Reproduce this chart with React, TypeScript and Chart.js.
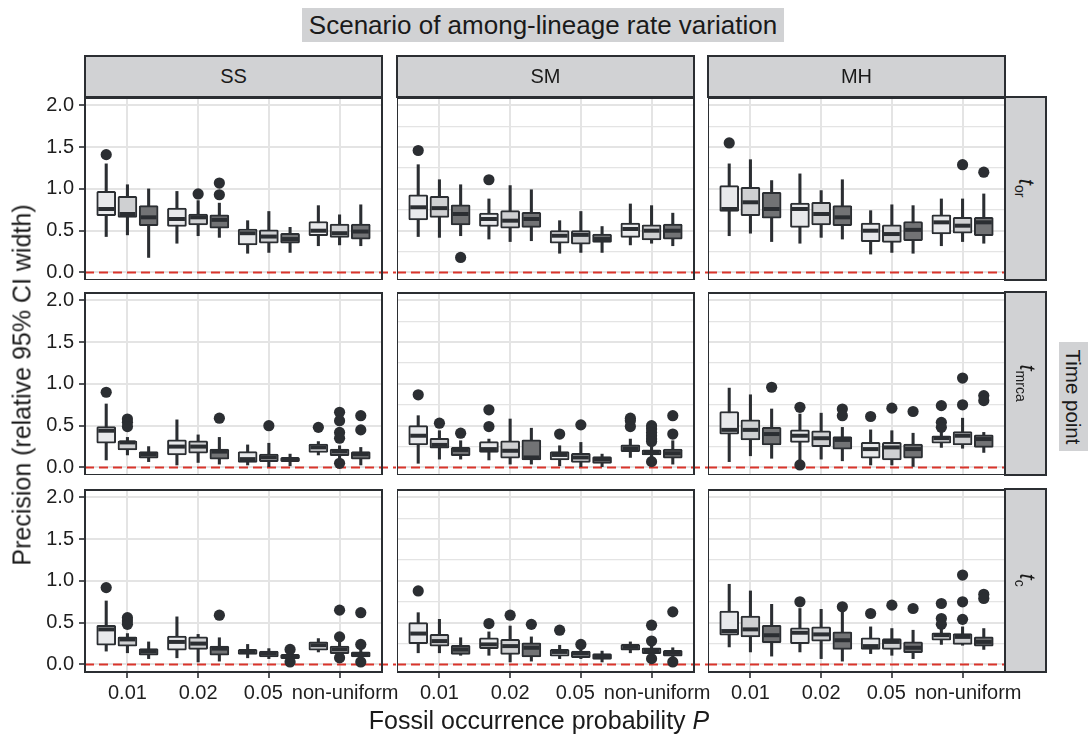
import React, { useEffect, useRef } from "react";
import { Chart, registerables } from "chart.js";
Chart.register(...registerables);

const FONT = '"Liberation Sans", Arial, Helvetica, sans-serif';
const DARK = "#2b2e32";
const FILLS = ["#e8e9eb", "#cfd0d2", "#727375"];
const GRID = "#e4e4e4";
const RED = "#d9342b";
const STRIP = "#d1d2d4";

const categories = ["0.01", "0.02", "0.05", "non-uniform"];
// label spacing as rendered in the original figure (labels nudged apart)
const categoryLabelText = ["0.01", "0.02", "0.05  ", "  non-uniform"];
const scenarios = ["SS", "SM", "MH"];
const timePoints = ["or", "mrca", "c"];
const yTickValues = [0, 0.25, 0.5, 0.75, 1, 1.25, 1.5, 1.75, 2];

// box stats per group (light, mid, dark), per category: [lowWhisker, q1, median, q3, highWhisker]
const ssOr = [
  [[0.43, 0.68, 0.76, 0.97, 1.3], [0.35, 0.55, 0.64, 0.77, 0.97], [0.23, 0.33, 0.47, 0.52, 0.62], [0.32, 0.44, 0.5, 0.61, 0.8]],
  [[0.45, 0.66, 0.7, 0.91, 1.05], [0.44, 0.57, 0.66, 0.7, 0.86], [0.24, 0.35, 0.43, 0.51, 0.73], [0.33, 0.42, 0.47, 0.58, 0.69]],
  [[0.18, 0.56, 0.66, 0.8, 1.0], [0.42, 0.53, 0.63, 0.69, 0.83], [0.24, 0.35, 0.4, 0.47, 0.54], [0.32, 0.4, 0.49, 0.58, 0.81]],
];
const ssOrOut = [[[1.41], [], [], []], [[], [0.94], [], []], [[], [0.93, 1.07], [], []]];

const smOr = [
  [[0.43, 0.63, 0.78, 0.93, 1.29], [0.4, 0.55, 0.64, 0.71, 0.88], [0.23, 0.35, 0.44, 0.5, 0.62], [0.33, 0.42, 0.52, 0.59, 0.82]],
  [[0.42, 0.66, 0.77, 0.91, 1.11], [0.37, 0.53, 0.62, 0.74, 1.04], [0.24, 0.34, 0.45, 0.5, 0.73], [0.35, 0.39, 0.5, 0.57, 0.8]],
  [[0.44, 0.57, 0.7, 0.81, 1.05], [0.38, 0.54, 0.64, 0.72, 0.99], [0.24, 0.36, 0.4, 0.46, 0.55], [0.32, 0.4, 0.5, 0.58, 0.71]],
];
const smOrOut = [[[1.46], [1.11], [], []], [[], [], [], []], [[0.18], [], [], []]];

const mhOr = [
  [[0.44, 0.73, 0.76, 1.04, 1.3], [0.35, 0.54, 0.76, 0.83, 1.18], [0.22, 0.37, 0.5, 0.59, 0.74], [0.32, 0.46, 0.6, 0.69, 0.88]],
  [[0.47, 0.68, 0.84, 1.02, 1.35], [0.42, 0.57, 0.7, 0.84, 0.98], [0.24, 0.36, 0.46, 0.57, 0.81], [0.37, 0.47, 0.56, 0.66, 0.88]],
  [[0.37, 0.65, 0.76, 0.96, 1.1], [0.4, 0.56, 0.66, 0.8, 1.11], [0.23, 0.38, 0.51, 0.61, 0.8], [0.35, 0.44, 0.6, 0.66, 0.94]],
];
const mhOrOut = [[[1.55], [], [], []], [[], [], [], [1.29]], [[], [], [], [1.2]]];

const ssMrca = [
  [[0.09, 0.29, 0.44, 0.49, 0.76], [0.03, 0.15, 0.25, 0.33, 0.57], [0.03, 0.06, 0.1, 0.19, 0.27], [0.15, 0.18, 0.24, 0.28, 0.31]],
  [[0.15, 0.21, 0.3, 0.32, 0.36], [0.06, 0.17, 0.25, 0.32, 0.39], [0.01, 0.07, 0.12, 0.16, 0.29], [0.1, 0.14, 0.19, 0.22, 0.26]],
  [[0.07, 0.11, 0.16, 0.19, 0.25], [0.04, 0.1, 0.19, 0.22, 0.36], [0.02, 0.07, 0.1, 0.12, 0.16], [0.03, 0.1, 0.16, 0.19, 0.24]],
];
const ssMrcaOut = [[[0.9], [], [], [0.48]], [[0.58, 0.54, 0.49], [], [0.5], [0.66, 0.56, 0.42, 0.35, 0.05]], [[], [0.59], [], [0.62, 0.45]]];

const smMrca = [
  [[0.05, 0.27, 0.38, 0.5, 0.62], [0.09, 0.18, 0.22, 0.31, 0.34], [0.02, 0.09, 0.15, 0.19, 0.26], [0.12, 0.19, 0.23, 0.27, 0.34]],
  [[0.1, 0.23, 0.27, 0.35, 0.44], [0.04, 0.11, 0.2, 0.32, 0.58], [0.01, 0.06, 0.12, 0.17, 0.3], [0.11, 0.15, 0.18, 0.21, 0.26]],
  [[0.1, 0.14, 0.21, 0.24, 0.32], [0.04, 0.09, 0.12, 0.33, 0.47], [0.01, 0.05, 0.1, 0.13, 0.16], [0.04, 0.11, 0.17, 0.22, 0.32]],
];
const smMrcaOut = [[[0.87], [0.69, 0.49], [0.4], [0.59, 0.56, 0.49]], [[0.53], [], [0.51], [0.5, 0.46, 0.42, 0.38, 0.34, 0.31, 0.07]], [[0.41], [], [], [0.62, 0.4]]];

const mhMrca = [
  [[0.07, 0.4, 0.45, 0.67, 0.95], [0.08, 0.3, 0.38, 0.45, 0.64], [0.03, 0.11, 0.22, 0.3, 0.45], [0.24, 0.29, 0.35, 0.38, 0.45]],
  [[0.14, 0.33, 0.45, 0.57, 0.87], [0.1, 0.25, 0.35, 0.44, 0.65], [0.03, 0.09, 0.24, 0.3, 0.44], [0.23, 0.27, 0.38, 0.43, 0.59]],
  [[0.11, 0.27, 0.4, 0.48, 0.7], [0.08, 0.22, 0.33, 0.37, 0.48], [0.0, 0.11, 0.22, 0.28, 0.41], [0.18, 0.24, 0.34, 0.39, 0.42]],
];
const mhMrcaOut = [[[], [0.72, 0.03], [0.61], [0.74, 0.54, 0.48]], [[], [], [0.71], [1.07, 0.75]], [[0.96], [0.7, 0.62], [0.67], [0.86, 0.8]]];

const ssC = [
  [[0.16, 0.23, 0.42, 0.47, 0.76], [0.08, 0.17, 0.27, 0.34, 0.57], [0.08, 0.12, 0.15, 0.18, 0.24], [0.15, 0.17, 0.23, 0.27, 0.31]],
  [[0.14, 0.22, 0.3, 0.33, 0.37], [0.03, 0.18, 0.25, 0.33, 0.36], [0.07, 0.09, 0.13, 0.16, 0.19], [0.09, 0.13, 0.18, 0.22, 0.27]],
  [[0.07, 0.11, 0.16, 0.19, 0.27], [0.04, 0.11, 0.19, 0.22, 0.32], [0.03, 0.07, 0.1, 0.12, 0.17], [0.04, 0.09, 0.12, 0.15, 0.25]],
];
const ssCOut = [[[0.92], [], [], []], [[0.56, 0.52, 0.48], [], [], [0.65, 0.33, 0.08]], [[], [0.59], [0.18, 0.03], [0.62, 0.24, 0.03]]];

const smC = [
  [[0.14, 0.25, 0.37, 0.5, 0.62], [0.11, 0.19, 0.24, 0.32, 0.39], [0.07, 0.1, 0.15, 0.18, 0.23], [0.14, 0.17, 0.21, 0.24, 0.27]],
  [[0.14, 0.22, 0.28, 0.36, 0.54], [0.03, 0.12, 0.22, 0.3, 0.46], [0.07, 0.08, 0.13, 0.16, 0.2], [0.07, 0.13, 0.17, 0.2, 0.23]],
  [[0.11, 0.12, 0.18, 0.23, 0.32], [0.04, 0.09, 0.2, 0.26, 0.33], [0.03, 0.06, 0.1, 0.13, 0.16], [0.03, 0.1, 0.14, 0.17, 0.2]],
];
const smCOut = [[[0.88], [0.49], [0.41], []], [[], [0.59], [0.24], [0.47, 0.28, 0.07]], [[], [0.48], [], [0.63, 0.03]]];

const mhC = [
  [[0.21, 0.35, 0.4, 0.64, 0.96], [0.15, 0.25, 0.38, 0.44, 0.67], [0.13, 0.18, 0.22, 0.32, 0.45], [0.24, 0.29, 0.35, 0.38, 0.44]],
  [[0.15, 0.33, 0.42, 0.58, 0.88], [0.07, 0.28, 0.36, 0.45, 0.66], [0.11, 0.18, 0.27, 0.31, 0.43], [0.23, 0.24, 0.33, 0.37, 0.45]],
  [[0.1, 0.26, 0.35, 0.47, 0.72], [0.04, 0.18, 0.29, 0.39, 0.68], [0.07, 0.14, 0.2, 0.27, 0.41], [0.18, 0.22, 0.27, 0.33, 0.43]],
];
const mhCOut = [[[], [0.75], [0.61], [0.73, 0.55, 0.48]], [[], [], [0.71], [1.07, 0.75, 0.54]], [[], [0.69], [0.67], [0.84, 0.79]]];

const panelStats = [
  [ssOr, smOr, mhOr],
  [ssMrca, smMrca, mhMrca],
  [ssC, smC, mhC],
];
const panelOutliers = [
  [ssOrOut, smOrOut, mhOrOut],
  [ssMrcaOut, smMrcaOut, mhMrcaOut],
  [ssCOut, smCOut, mhCOut],
];

// layout
const COL_X = [85, 397, 708];
const ROW_Y = [97, 292, 489];
const PW = 297;
const PH = 183;
const DODGE = [-0.3, 0, 0.3];

const isMajor = (v: any) => typeof v === "number" && Math.abs(v * 2 - Math.round(v * 2)) < 1e-6;

function Panel({ stats, outs, col, row }: { stats: number[][][]; outs: number[][][]; col: number; row: number }) {
  const ref = useRef<HTMLCanvasElement>(null);
  const L = col === 0 ? 60 : 0;
  const B = row === 2 ? 40 : 0;
  const E = 60;
  const redExt = col < 2 ? 14 : 0;
  const w = L + PW + E;
  const h = PH + B;

  useEffect(() => {
    if (!ref.current) return;
    const datasets: any[] = [];
    stats.forEach((grp, g) => {
      datasets.push({
        type: "bar",
        data: grp.map((s, i) => ({ x: i + 1 + DODGE[g], y: [s[0], s[4]] })),
        backgroundColor: DARK,
        borderWidth: 0,
        barThickness: 2.4,
        grouped: false,
        order: 3,
      });
      datasets.push({
        type: "bar",
        data: grp.map((s, i) => ({ x: i + 1 + DODGE[g], y: [s[1], s[3]] })),
        backgroundColor: FILLS[g],
        borderColor: DARK,
        borderWidth: 2,
        borderSkipped: false,
        borderRadius: 1.5,
        barThickness: 19,
        grouped: false,
        order: 2,
      });
    });
    datasets.push({
      type: "scatter",
      data: stats.flatMap((grp, g) => grp.map((s, i) => ({ x: i + 1 + DODGE[g], y: s[2] }))),
      pointStyle: "line",
      pointRadius: 8,
      pointBorderWidth: 4,
      pointBorderColor: DARK,
      borderColor: DARK,
      order: 1,
    });
    datasets.push({
      type: "scatter",
      data: outs.flatMap((grp, g) => grp.flatMap((vals, i) => vals.map((v) => ({ x: i + 1 + DODGE[g], y: v })))),
      pointStyle: "circle",
      pointRadius: 5.6,
      pointBackgroundColor: DARK,
      pointBorderWidth: 0,
      order: 0,
    });

    const panelPlugin = {
      id: "panelDeco",
      beforeDatasetsDraw(chart: any) {
        const { ctx, chartArea, scales } = chart;
        const y = scales.y.getPixelForValue(0);
        ctx.save();
        ctx.strokeStyle = RED;
        ctx.lineWidth = 2;
        ctx.setLineDash([9, 5]);
        ctx.beginPath();
        ctx.moveTo(chartArea.left, y);
        ctx.lineTo(chartArea.right + redExt, y);
        ctx.stroke();
        ctx.restore();
      },
      afterDraw(chart: any) {
        const { ctx, chartArea } = chart;
        ctx.save();
        ctx.strokeStyle = DARK;
        ctx.lineWidth = 2;
        ctx.strokeRect(chartArea.left, chartArea.top + 1, chartArea.right - chartArea.left, chartArea.bottom - chartArea.top - 1);
        ctx.restore();
      },
    };

    const resetPad = (s: any) => {
      s.paddingLeft = 0;
      s.paddingRight = 0;
      s.paddingTop = 0;
      s.paddingBottom = 0;
    };

    const chart = new Chart(ref.current, {
      type: "bar",
      data: { datasets },
      options: {
        responsive: false,
        animation: false,
        devicePixelRatio: 1,
        events: [],
        layout: { autoPadding: false, padding: { left: 0, top: 0, bottom: 0, right: E } },
        plugins: { legend: { display: false }, tooltip: { enabled: false }, title: { display: false } },
        scales: {
          x: {
            type: "linear",
            min: 0.4,
            max: 4.6,
            offset: false,
            grid: {
              offset: false,
              color: GRID,
              lineWidth: 2,
              drawTicks: row === 2,
              tickLength: 6,
              tickColor: DARK,
              tickWidth: 1.6,
            },
            border: { display: false },
            ticks: {
              display: row === 2,
              autoSkip: false,
              maxRotation: 0,
              minRotation: 0,
              padding: 3,
              color: "#1e1e1e",
              font: { family: FONT, size: 20 },
              callback: (v: any) => categoryLabelText[Math.round(v) - 1] ?? "",
            },
            afterBuildTicks: (s: any) => {
              s.ticks = categories.map((_, i) => ({ value: i + 1 }));
            },
            afterFit: (s: any) => {
              s.height = B;
              resetPad(s);
            },
          },
          y: {
            type: "linear",
            min: -0.09,
            max: 2.1,
            grid: {
              color: GRID,
              lineWidth: (c: any) => (isMajor(c.tick && c.tick.value) ? 2 : 1.2),
              drawTicks: col === 0,
              tickLength: 6,
              tickColor: (c: any) => (isMajor(c.tick && c.tick.value) ? DARK : "rgba(0,0,0,0)"),
              tickWidth: 1.6,
            },
            border: { display: false },
            ticks: {
              display: col === 0,
              padding: 5,
              color: "#1e1e1e",
              font: { family: FONT, size: 20 },
              callback: (v: any) => (isMajor(v) ? Number(v).toFixed(1) : ""),
            },
            afterBuildTicks: (s: any) => {
              s.ticks = yTickValues.map((v) => ({ value: v }));
            },
            afterFit: (s: any) => {
              s.width = L;
              resetPad(s);
            },
          },
        },
      } as any,
      plugins: [panelPlugin],
    });
    return () => chart.destroy();
  }, []);

  return (
    <canvas
      ref={ref}
      width={w}
      height={h}
      style={{ position: "absolute", left: COL_X[col] - L, top: ROW_Y[row], width: w, height: h }}
    />
  );
}

export default function App() {
  const panels: any[] = [];
  for (let r = 0; r < 3; r++) {
    for (let c = 0; c < 3; c++) {
      panels.push(<Panel key={`${r}-${c}`} stats={panelStats[r][c]} outs={panelOutliers[r][c]} col={c} row={r} />);
    }
  }
  return (
    <div
      style={{
        position: "absolute",
        left: 0,
        top: 0,
        width: 1088,
        height: 736,
        background: "#ffffff",
        fontFamily: FONT,
        color: "#1a1a1a",
        overflow: "hidden",
      }}
    >
      {panels}
      {/* title */}
      <div
        style={{
          position: "absolute",
          left: 302,
          top: 8,
          width: 482,
          height: 34,
          background: STRIP,
          display: "flex",
          alignItems: "center",
          justifyContent: "center",
          fontSize: 26,
          whiteSpace: "nowrap",
        }}
      >
        Scenario of among-lineage rate variation
      </div>
      {/* top strips */}
      {scenarios.map((s, c) => (
        <div
          key={s}
          style={{
            position: "absolute",
            left: COL_X[c] - 1,
            top: 55,
            width: PW + 2,
            height: 43,
            boxSizing: "border-box",
            border: `2px solid ${DARK}`,
            background: STRIP,
            display: "flex",
            alignItems: "center",
            justifyContent: "center",
            fontSize: 20,
          }}
        >
          {s}
        </div>
      ))}
      {/* right strips */}
      {timePoints.map((t, r) => (
        <div
          key={t}
          style={{
            position: "absolute",
            left: COL_X[2] + PW - 1,
            top: ROW_Y[r] - 1,
            width: 43,
            height: PH + 2,
            boxSizing: "border-box",
            border: `2px solid ${DARK}`,
            background: STRIP,
            display: "flex",
            alignItems: "center",
            justifyContent: "center",
          }}
        >
          <span style={{ display: "inline-block", transform: "rotate(90deg)", whiteSpace: "nowrap", lineHeight: 1 }}>
            <i style={{ fontSize: 22 }}>t</i>
            <sub style={{ fontSize: 14 }}>{t}</sub>
          </span>
        </div>
      ))}
      {/* Time point strip */}
      <div
        style={{
          position: "absolute",
          left: 1059,
          top: 342,
          width: 29,
          height: 109,
          background: STRIP,
          display: "flex",
          alignItems: "center",
          justifyContent: "center",
        }}
      >
        <span style={{ display: "inline-block", transform: "rotate(90deg)", whiteSpace: "nowrap", fontSize: 20.5 }}>
          Time point
        </span>
      </div>
      {/* y title */}
      <div
        style={{
          position: "absolute",
          left: 22,
          top: 385,
          transform: "translate(-50%, -50%) rotate(-90deg)",
          whiteSpace: "nowrap",
          fontSize: 25,
        }}
      >
        Precision (relative 95% CI width)
      </div>
      {/* x title */}
      <div
        style={{
          position: "absolute",
          left: 539,
          top: 720,
          transform: "translate(-50%, -50%)",
          whiteSpace: "nowrap",
          fontSize: 25,
        }}
      >
        Fossil occurrence probability <i>P</i>
      </div>
    </div>
  );
}
